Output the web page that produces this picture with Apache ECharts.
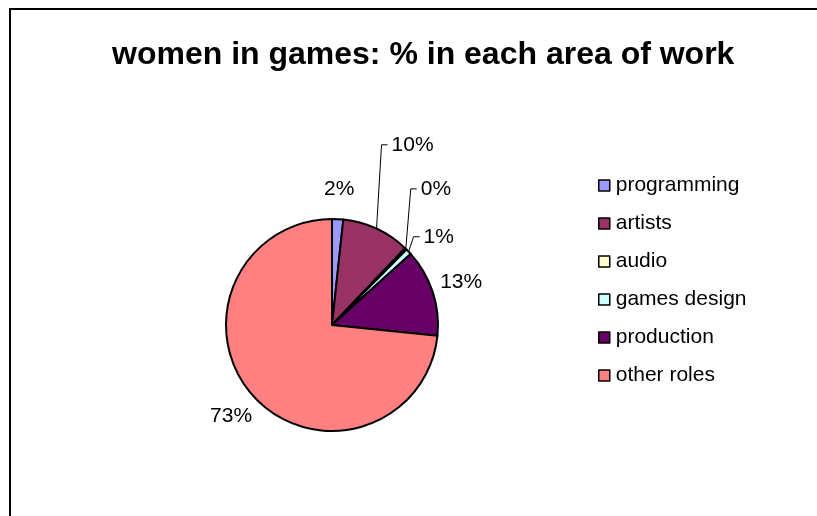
<!DOCTYPE html>
<html>
<head>
<meta charset="utf-8">
<title>women in games</title>
<script src="https://cdn.jsdelivr.net/npm/echarts@6/dist/echarts.min.js"></script>
<style>
  html, body { margin: 0; padding: 0; background: #fff; }
  #chart { width: 817px; height: 516px; }
</style>
</head>
<body>
<div id="chart"></div>
<script>
var roles = ['programming', 'artists', 'audio', 'games design', 'production', 'other roles'];
var shares = [1.7, 10.4, 0.3, 0.9, 13.3, 73.4];
var sliceColors = ['#9999FF', '#993366', '#FFFFCC', '#CCFFFF', '#660066', '#FF8080'];
// how far the leader-lined labels sit above the slice edge (0 = no leader line)
var leaderLift = [0, 84, 60, 15, 0, 0];

var fontName = '"Liberation Sans", Arial, sans-serif';

function buildData() {
  return roles.map(function(name, i) {
    return {
      name: name,
      value: shares[i],
      itemStyle: { color: sliceColors[i] }
    };
  });
}

// Excel style label placement: small slices get a vertical leader line,
// the rest are centred just outside the rim.
function placeLabel(p) {
  var pts = p.labelLinePoints;
  if (!pts) return {};
  var e = pts[0], q = pts[1];
  var len = Math.sqrt((q[0] - e[0]) * (q[0] - e[0]) + (q[1] - e[1]) * (q[1] - e[1])) || 1;
  var ux = (q[0] - e[0]) / len, uy = (q[1] - e[1]) / len;
  var lift = leaderLift[p.dataIndex];
  if (lift > 0) {
    var ty = e[1] - lift;
    var tx = e[0] + 5;
    return {
      x: tx + 10, y: ty, align: 'left', verticalAlign: 'middle',
      labelLinePoints: [e, [tx, ty], [tx + 6, ty]]
    };
  }
  return {
    x: e[0] + ux * 30, y: e[1] + uy * 30, align: 'center', verticalAlign: 'middle',
    labelLinePoints: [e, e, e]
  };
}

var chart = echarts.init(document.getElementById('chart'), null, { renderer: 'canvas' });

var option = {
  backgroundColor: '#fff',
  animation: false,
  title: {
    text: 'women in games: % in each area of work',
    left: 107,
    top: 34,
    textStyle: { fontFamily: fontName, fontWeight: 'bold', fontSize: 32, color: '#000' }
  },
  graphic: [{
    type: 'rect',
    shape: { x: 10, y: 9, width: 900, height: 600 },
    style: { fill: 'none', stroke: '#000', lineWidth: 2 },
    silent: true
  }],
  legend: {
    orient: 'vertical',
    left: 593,
    top: 170,
    itemWidth: 11,
    itemHeight: 11,
    itemGap: 17,
    icon: 'rect',
    itemStyle: { borderColor: '#000', borderWidth: 1.5 },
    textStyle: { fontFamily: fontName, fontSize: 21, color: '#000', lineHeight: 21, padding: [0, 0, 0, 1] },
    data: roles
  },
  series: [{
    type: 'pie',
    center: [332, 325],
    radius: 106,
    startAngle: 90,
    clockwise: true,
    avoidLabelOverlap: false,
    itemStyle: { borderColor: '#000', borderWidth: 2 },
    emphasis: { disabled: true },
    label: {
      show: true,
      position: 'outside',
      fontFamily: fontName,
      fontSize: 21,
      color: '#000',
      formatter: function(p) { return Math.round(p.percent) + '%'; }
    },
    labelLine: {
      show: true,
      length: 15,
      length2: 0,
      lineStyle: { color: '#000', width: 1 }
    },
    labelLayout: placeLabel,
    data: buildData()
  }]
};

chart.setOption(option);
</script>
</body>
</html>
